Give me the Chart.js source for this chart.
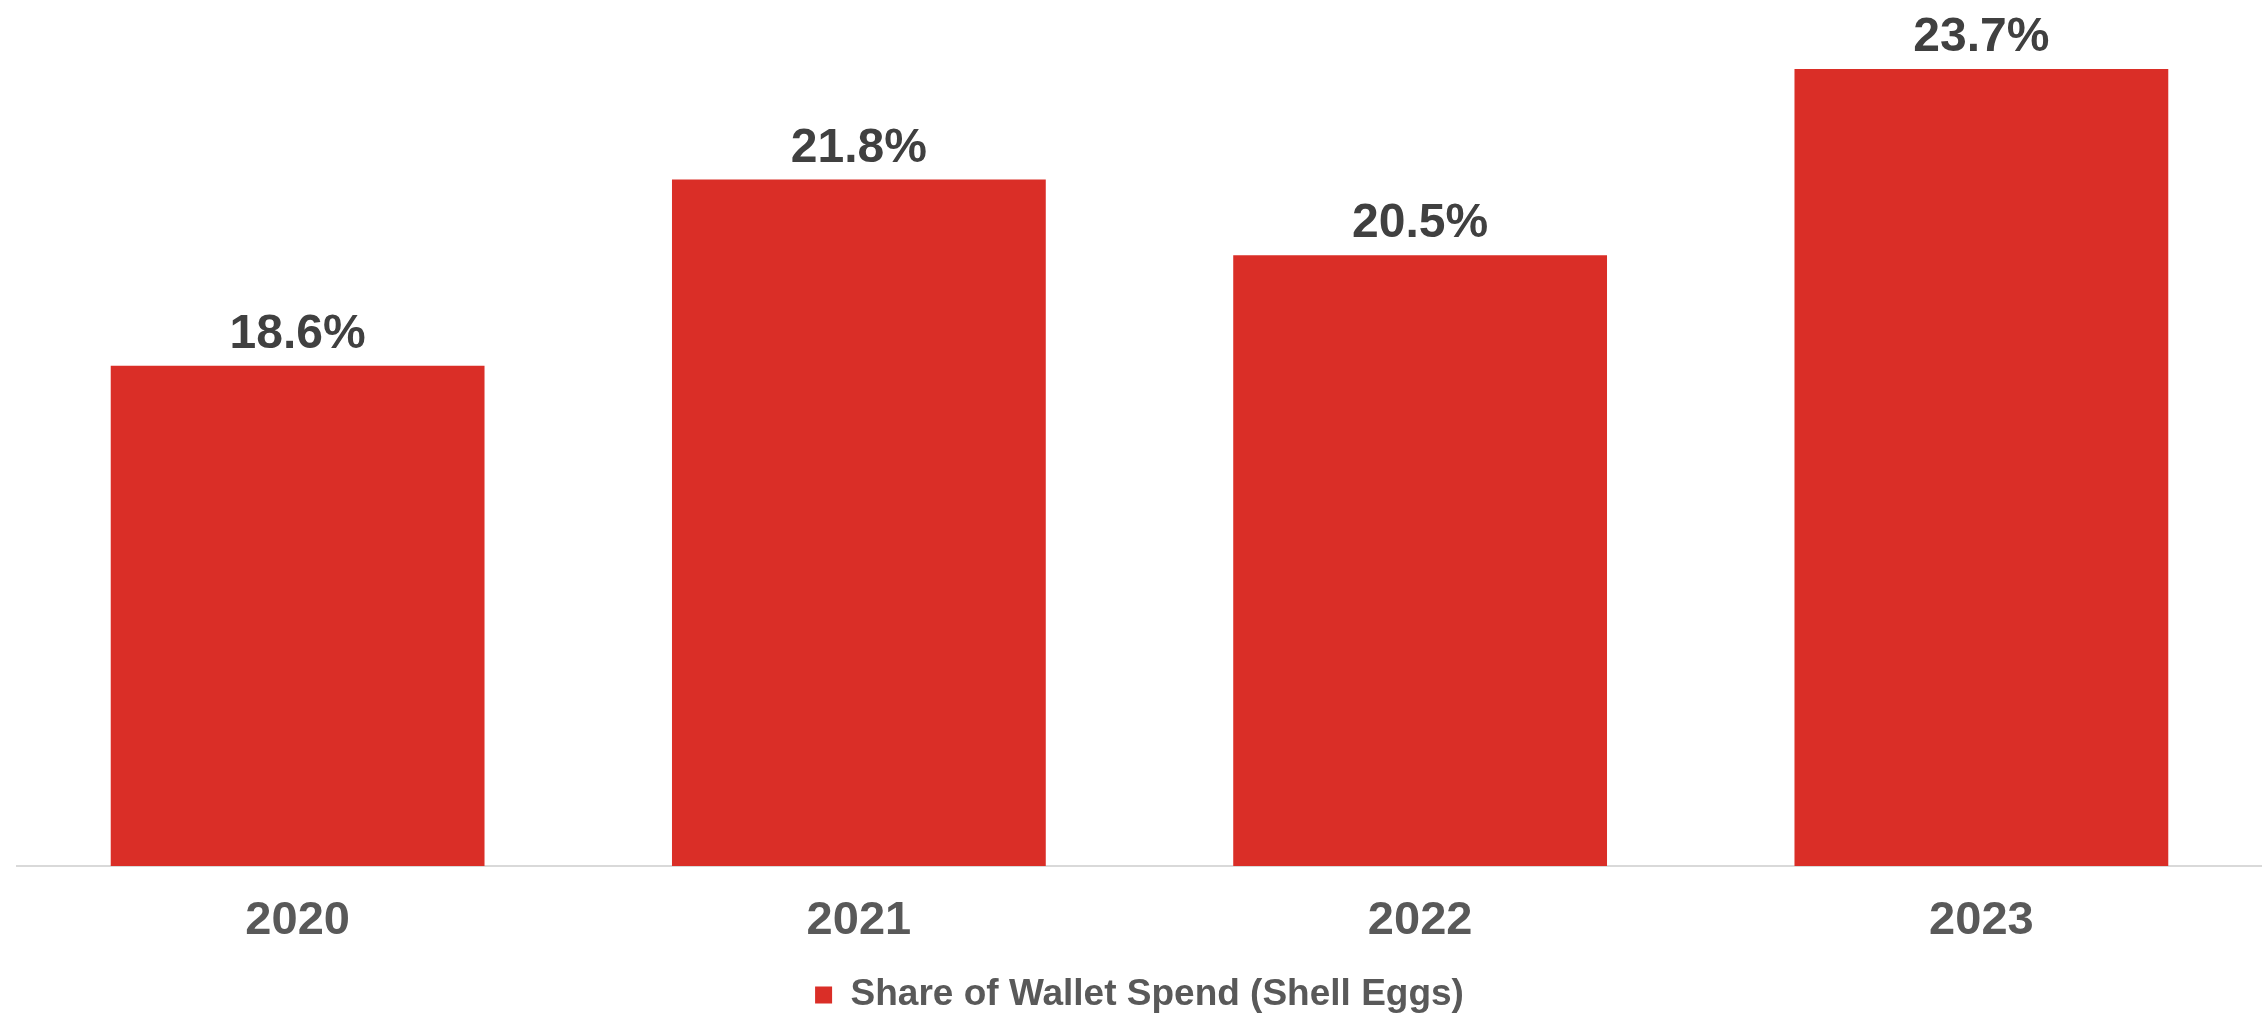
<!DOCTYPE html>
<html>
<head>
<meta charset="utf-8">
<title>Share of Wallet Spend (Shell Eggs)</title>
<script src="https://cdn.jsdelivr.net/npm/chart.js@4/dist/chart.umd.min.js"></script>
<style>
    html, body { margin: 0; padding: 0; background: #ffffff; }
    #wrap { width: 2262px; height: 1016px; }
</style>
</head>
<body>
<div id="wrap"><canvas id="walletChart" width="2262" height="1016"></canvas></div>
<script>
const years = ['2020', '2021', '2022', '2023'];
const shareOfWallet = [18.6, 21.8, 20.5, 23.7];
const seriesName = 'Share of Wallet Spend (Shell Eggs)';

const FONT = "'Liberation Sans', Arial, sans-serif";

// draws the % value above each bar
const valueLabels = {
    id: 'valueLabels',
    afterDatasetsDraw(chart) {
        const ctx = chart.ctx;
        const meta = chart.getDatasetMeta(0);
        ctx.save();
        ctx.font = 'bold 48px ' + FONT;
        ctx.fillStyle = '#404040';
        ctx.textAlign = 'center';
        ctx.textBaseline = 'alphabetic';
        meta.data.forEach((bar, i) => {
            ctx.fillText(shareOfWallet[i].toFixed(1) + '%', bar.x, bar.y - 18);
        });
        ctx.restore();
    }
};

new Chart(document.getElementById('walletChart'), {
    type: 'bar',
    data: {
        labels: years,
        datasets: [{
            label: seriesName,
            data: shareOfWallet,
            backgroundColor: '#DA2E27',
            borderWidth: 0,
            categoryPercentage: 1,
            barPercentage: 0.666
        }]
    },
    options: {
        responsive: false,
        animation: false,
        devicePixelRatio: 1,
        // negative bottom padding lets the legend sit lower, as in the original
        layout: { padding: { left: 17, right: 0, top: 5, bottom: -7.5 } },
        plugins: {
            tooltip: { enabled: false },
            legend: {
                position: 'bottom',
                labels: {
                    boxWidth: 17,
                    boxHeight: 17,
                    padding: 0.5,
                    color: '#595959',
                    font: { family: FONT, size: 37, weight: 'bold' }
                }
            }
        },
        scales: {
            x: {
                grid: { display: false, drawTicks: false },
                border: { display: true, color: '#D9D9D9', width: 2 },
                ticks: {
                    padding: 31.5,
                    color: '#595959',
                    font: { family: FONT, size: 47, weight: 'bold', lineHeight: 1 }
                }
            },
            y: {
                display: false,
                min: 10,
                max: 24.8
            }
        }
    },
    plugins: [valueLabels]
});
</script>
</body>
</html>
